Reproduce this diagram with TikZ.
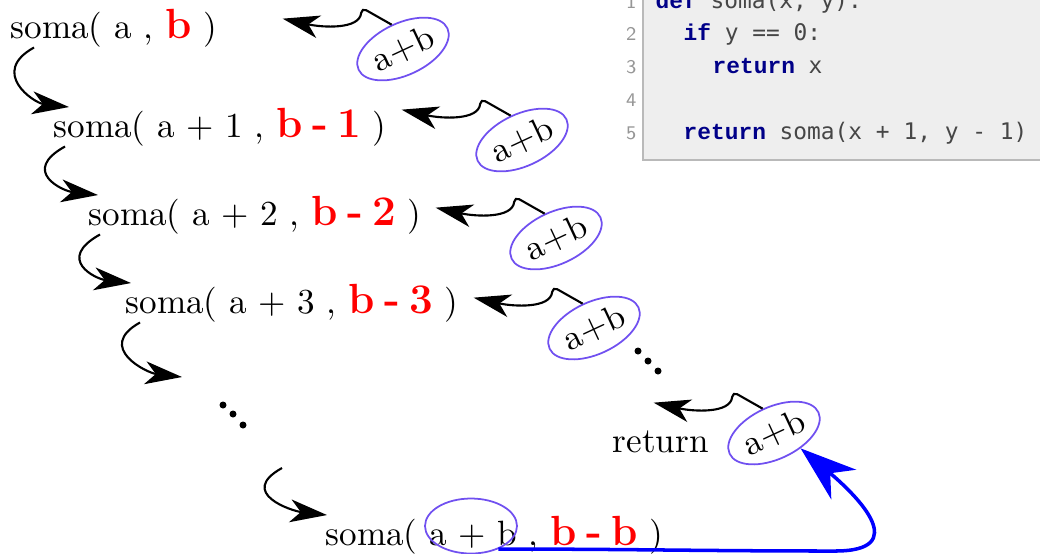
\documentclass[tikz,border=0pt]{standalone}
\usepackage{fontspec}
\usepackage{xcolor}
\usepackage{tikz}
\usetikzlibrary{arrows.meta, shapes.geometric, calc}
\newfontfamily\codefont{DejaVu Sans Mono}
\newfontfamily\kwfont{Liberation Mono}
\definecolor{ovalc}{RGB}{112,80,240}
\definecolor{codebg}{RGB}{238,238,238}
\definecolor{codeframe}{RGB}{185,185,185}
\definecolor{kwblue}{RGB}{0,0,136}
\definecolor{codetxt}{RGB}{70,70,70}
\definecolor{lnumc}{RGB}{150,150,150}
\newcommand{\bdec}[1]{\textcolor{red}{\fontsize{12}{15}\selectfont\bfseries #1}}
\newcommand{\gap}{\hspace{0.22em}}
\newcommand{\kw}[1]{{\kwfont\bfseries\color{kwblue}#1}}

\begin{document}
\begin{tikzpicture}[
    every node/.style={inner sep=0pt},
    row/.style={anchor=base west, font=\normalsize},
    oval/.style={ellipse, draw=ovalc, line width=0.5pt, minimum width=0.98cm, minimum height=0.52cm},
    code/.style={anchor=base west, font=\fontsize{6.5}{8}\selectfont\codefont, text=codetxt},
    lnum/.style={anchor=base east, font=\fontsize{5.5}{6}\selectfont\sffamily, text=lnumc},
    callarr/.style={-{Stealth[length=10.5pt, width=6.5pt, inset=3pt]}, line width=0.6pt},
    retarr/.style={-{Stealth[length=10.5pt, width=6.5pt, inset=3pt]}, line width=0.6pt, rounded corners=1.5pt},
    sumarr/.style={-{Stealth[length=16pt, width=11pt, inset=5pt]}, blue, line width=1pt}
  ]
    \useasboundingbox (0,0) rectangle (10.4,5.53);

    % code box
    \fill[codebg] (6.43,3.93) rectangle (10.6,5.8);
    \draw[codeframe, line width=0.8pt] (6.43,5.8) -- (6.43,3.93) -- (10.6,3.93);
    \node[lnum] (n1) at (6.37,5.45) {1};
    \node[lnum] (n2) at (6.37,5.13) {2};
    \node[lnum] (n3) at (6.37,4.80) {3};
    \node[lnum] (n4) at (6.37,4.47) {4};
    \node[lnum] (n5) at (6.37,4.14) {5};
    \node[code] (c1) at (6.55,5.45) {\kw{def} soma(x, y):};
    \node[code] (c2) at (6.83,5.13) {\kw{if} y == 0:};
    \node[code] (c3) at (7.12,4.80) {\kw{return} x};
    \node[code] (c5) at (6.83,4.14) {\kw{return} soma(x + 1, y - 1)};

    % calls
    \node[row] (r1) at (0.10,5.15) {soma( a , \bdec{b} )};
    \node[row] (r2) at (0.53,4.16) {soma( a + 1 , \bdec{b\gap-\gap1} )};
    \node[row] (r3) at (0.88,3.28) {soma( a + 2 , \bdec{b\gap-\gap2} )};
    \node[row] (r4) at (1.25,2.40) {soma( a + 3 , \bdec{b\gap-\gap3} )};
    \node[row] (r5) at (3.25,0.08) {soma( a + b , \bdec{b\gap-\gap b} )};
    \node[row] (ret) at (6.12,1.01) {return};
    \coordinate (gap1) at (1.82,1.76);
    \coordinate (gap2) at (2.82,0.85);
    \foreach \x/\y in {2.23/1.48, 2.33/1.39, 2.43/1.28, 6.38/2.02, 6.48/1.92, 6.58/1.82}
      {\fill (\x,\y) circle (0.035);}

    \draw[callarr] ([xshift=2.4mm]r1.south west) .. controls +(-0.45,-0.25) and +(-0.35,0.04) .. ([xshift=1.6mm]r2.north west);
    \draw[callarr] ([xshift=1.2mm]r2.south west) .. controls +(-0.45,-0.25) and +(-0.35,0.04) .. ([xshift=1mm]r3.north west);
    \draw[callarr] ([xshift=1.2mm]r3.south west) .. controls +(-0.45,-0.25) and +(-0.35,0.04) .. ([xshift=0.6mm]r4.north west);
    \draw[callarr] ([xshift=1.5mm]r4.south west) .. controls +(-0.45,-0.25) and +(-0.35,0.04) .. (gap1);
    \draw[callarr] (gap2) .. controls +(-0.45,-0.25) and +(-0.35,0.04) .. ([xshift=0.2mm]r5.north west);

    % returns
    \node[oval, rotate=25] (e1) at (4.03,5.04) {a+b};
    \node[oval, rotate=25] (e2) at (5.22,4.13) {a+b};
    \node[oval, rotate=25] (e3) at (5.56,3.15) {a+b};
    \node[oval, rotate=25] (e4) at (5.94,2.25) {a+b};
    \node[oval, rotate=25] (e5) at (7.74,1.20) {a+b};
    \draw[retarr] (e1.north) -- ++(-0.30,0.17) .. controls +(-0.02,-0.22) and +(0.40,-0.09) .. ++(-0.79,-0.11);
    \draw[retarr] (e2.north) -- ++(-0.30,0.17) .. controls +(-0.02,-0.22) and +(0.40,-0.09) .. ++(-0.79,-0.11);
    \draw[retarr] (e3.north) -- ++(-0.30,0.17) .. controls +(-0.02,-0.22) and +(0.40,-0.09) .. ++(-0.79,-0.11);
    \draw[retarr] (e4.north) -- ++(-0.30,0.17) .. controls +(-0.02,-0.22) and +(0.40,-0.09) .. ++(-0.79,-0.11);
    \draw[retarr] (e5.north) -- ++(-0.30,0.17) .. controls +(-0.02,-0.22) and +(0.40,-0.09) .. ++(-0.79,-0.11);

    \node[oval, minimum width=0.92cm, minimum height=0.55cm] (ab) at (4.71,0.27) {};
    \draw[sumarr] (ab.-40) to[out=0, in=180] (8.35,0.02) to[out=0, in=-40, looseness=1.8] (e5.-55);
\end{tikzpicture}
\end{document}
